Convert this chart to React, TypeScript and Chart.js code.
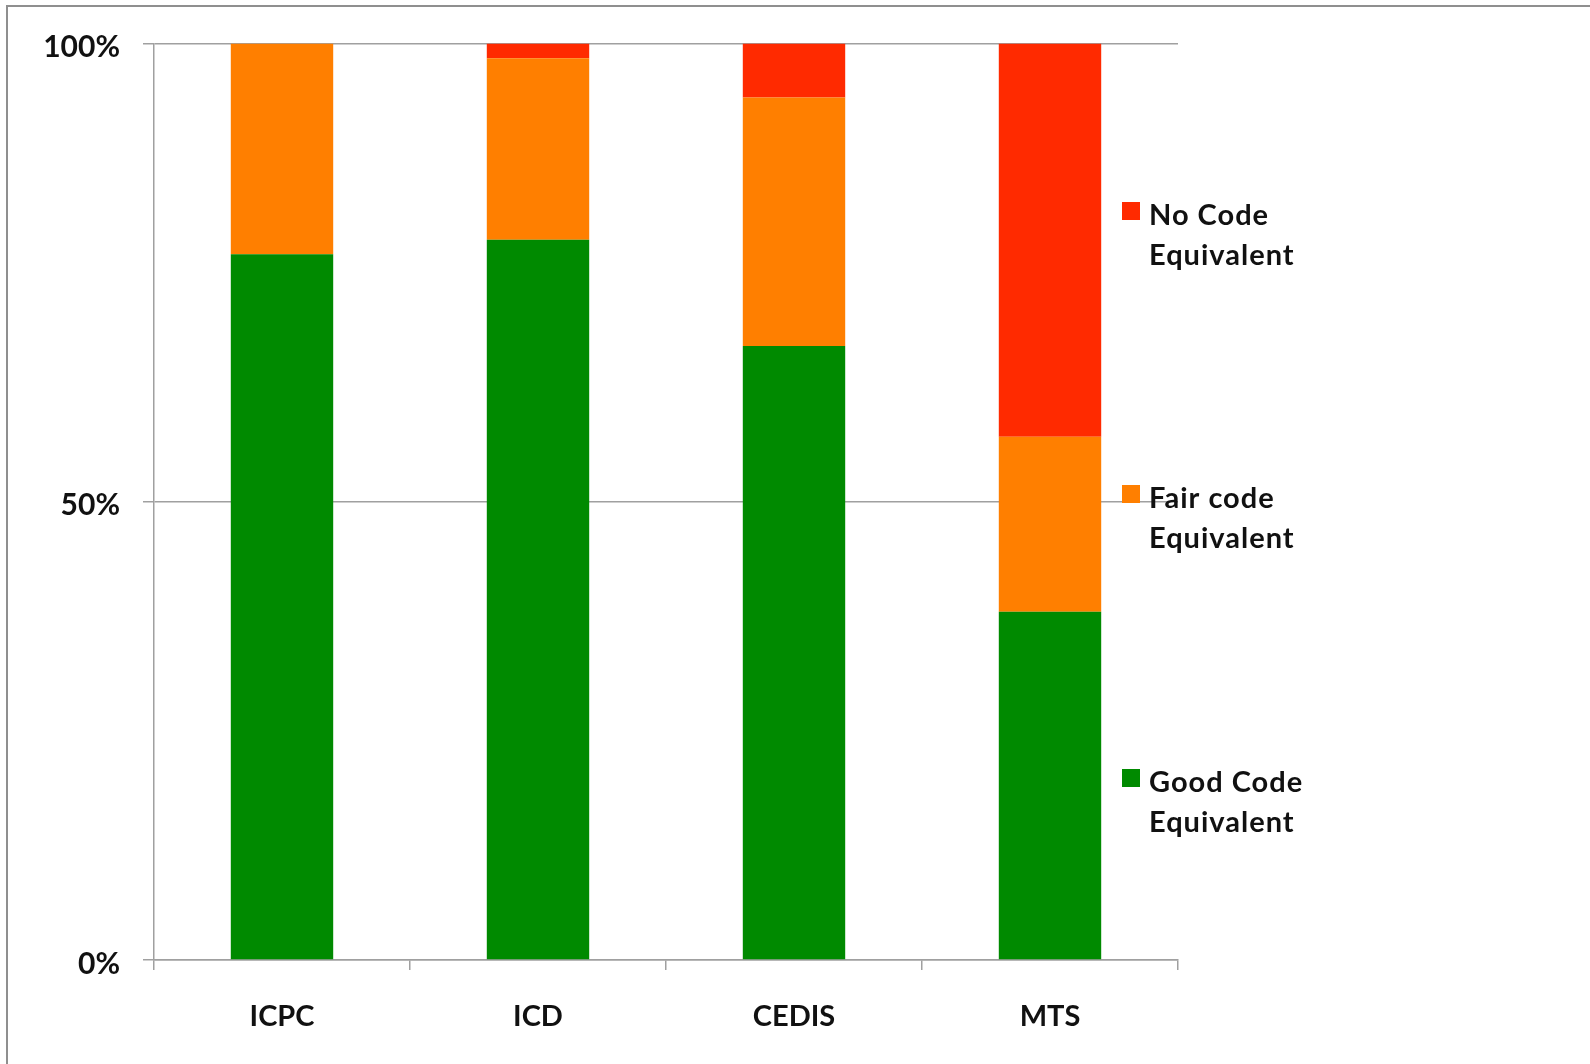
import React, { useEffect, useRef } from "react";
import { Chart, registerables } from "chart.js";

Chart.register(...registerables);

const categories = ["ICPC", "ICD", "CEDIS", "MTS"];
const goodValues = [77.0, 78.6, 67.0, 38.0];
const fairValues = [23.0, 19.8, 27.1, 19.1];
const noCodeValues = [0, 1.6, 5.9, 42.9];
const seriesLabels = ["Good Code Equivalent", "Fair code Equivalent", "No Code Equivalent"];
const legendLines = [
  ["Good Code", "Equivalent"],
  ["Fair code", "Equivalent"],
  ["No Code", "Equivalent"],
];
const yTicks = [0, 50, 100];

const FONT = "Lato, 'Open Sans', sans-serif";

const frameAndLegend = {
  id: "frameAndLegend",
  beforeDraw(chart: any) {
    const ctx = chart.ctx;
    ctx.save();
    ctx.fillStyle = "#ffffff";
    ctx.fillRect(0, 0, chart.width, chart.height);
    ctx.strokeStyle = "#8f8f8f";
    ctx.lineWidth = 2;
    ctx.beginPath();
    ctx.moveTo(7, chart.height);
    ctx.lineTo(7, 6);
    ctx.lineTo(chart.width, 6);
    ctx.stroke();
    ctx.restore();
  },
  afterDraw(chart: any) {
    const ctx = chart.ctx;
    const area = chart.chartArea;
    const baselines = [748.5, 464.5, 181.5];
    ctx.save();
    chart.data.datasets.forEach((ds: any, i: number) => {
      const base = area.top + baselines[i];
      const sx = area.right - 56;
      ctx.fillStyle = ds.backgroundColor;
      ctx.fillRect(sx, base - 23, 18, 18);
      ctx.fillStyle = "#111111";
      ctx.font = "bold 29px " + FONT;
      try {
        (ctx as any).letterSpacing = "1px";
      } catch (e) {}
      ctx.textAlign = "left";
      ctx.textBaseline = "alphabetic";
      legendLines[i].forEach((line, j) => {
        ctx.fillText(line, sx + 27, base + j * 40);
      });
    });
    ctx.restore();
  },
};

export default function App() {
  const ref = useRef<HTMLCanvasElement | null>(null);

  useEffect(() => {
    if (!ref.current) return;
    const chart = new Chart(ref.current, {
      type: "bar",
      data: {
        labels: categories,
        datasets: [
          { label: seriesLabels[0], data: goodValues, backgroundColor: "#008a00" },
          { label: seriesLabels[1], data: fairValues, backgroundColor: "#ff7f00" },
          { label: seriesLabels[2], data: noCodeValues, backgroundColor: "#ff2a00" },
        ],
      },
      options: {
        responsive: false,
        animation: false,
        devicePixelRatio: 1,
        layout: { padding: { left: 0, right: 412, top: 43.5, bottom: 0 } },
        datasets: {
          bar: { barPercentage: 0.4, categoryPercentage: 1.0, borderWidth: 0 },
        },
        plugins: {
          legend: { display: false },
          tooltip: { enabled: false },
        },
        scales: {
          x: {
            stacked: true,
            offset: true,
            grid: {
              offset: true,
              drawOnChartArea: false,
              drawTicks: true,
              tickLength: 10,
              color: "#a0a0a0",
              lineWidth: 1.5,
            },
            border: { display: true, color: "#a0a0a0", width: 1.5 },
            ticks: {
              color: "#111111",
              font: { family: FONT, size: 29, weight: "bold" },
              padding: 29,
              maxRotation: 0,
            },
            afterFit(scale: any) {
              scale.height = 104;
            },
          },
          y: {
            stacked: true,
            min: 0,
            max: 100,
            afterBuildTicks(scale: any) {
              scale.ticks = yTicks.map((v) => ({ value: v }));
            },
            grid: {
              color: "#a0a0a0",
              lineWidth: 1.5,
              drawTicks: true,
              tickLength: 11,
            },
            border: { display: true, color: "#a0a0a0", width: 1.5 },
            ticks: {
              color: "#111111",
              font: { family: FONT, size: 30, weight: "bold" },
              padding: 23,
              labelOffset: 4,
              callback: (v: any) => v + "%",
            },
            afterFit(scale: any) {
              scale.width = 154;
            },
          },
        },
      },
      plugins: [frameAndLegend],
    });
    return () => chart.destroy();
  }, []);

  return (
    <div style={{ position: "absolute", left: 0, top: 0, width: 1590, height: 1064 }}>
      <canvas ref={ref} width={1590} height={1064} style={{ display: "block" }} />
    </div>
  );
}
